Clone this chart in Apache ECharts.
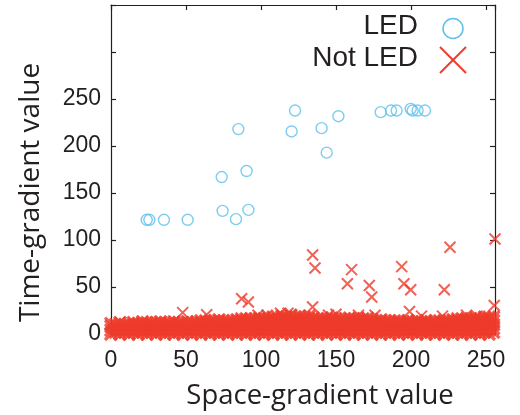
<!DOCTYPE html>
<html>
<head>
<meta charset="utf-8">
<script src="https://cdn.jsdelivr.net/npm/echarts@6/dist/echarts.min.js"></script>
<style>html,body{margin:0;padding:0;background:#fff;}#c{width:520px;height:415px;}</style>
</head>
<body>
<div id="c"></div>
<script>
// ---- data ----
var xTicks = [0, 50, 100, 150, 200, 250];
var yTicks = [0, 50, 100, 150, 200, 250];
var ledPoints = [
  [23.8,121.5],[25.6,121.5],[35.3,121.5],[51.1,121.5],
  [73.8,167],[90.4,173.4],[74.4,131],[91.6,132],[83.3,122.2],
  [84.9,218],[120.4,215.5],[122.7,237.7],[140.4,219],[143.8,192.9],[151.6,231.7],
  [179.8,236],[186.7,237.7],[190.4,237.7],[199.8,239.5],[201.1,237.7],[204.4,237.7],[209.3,237.7]
];
var notLedOutliers = [
  [256,101],[226,92.2],[134.4,84],[136,70.3],[193.8,71.7],[160.4,68.5],[157.6,53.4],
  [172.2,51.6],[173.8,39.3],[195.3,53.4],[199.8,47],[222.2,47],[87.1,37.5],[91.6,34],
  [134.4,28.7],[255.5,30.4],[199,24],[47.8,22.7],[63.8,20.5],[98,20],[104,20],[113,22],
  [118,22],[145,20],[150,21],[165,20],[176,20],[207,19],[221,19],[237,20],[244,19]
];
// dense band of Not-LED points: [x, y1, y2, ...]
var notLedBand = [
  [0,0,4,8,11],[3,2,6,10],[6,0,4,8,12],[9,2,6,10],[12,0,4,8,11],[15,2,6,10,12],
  [18,0,4,8,11],[21,2,6,10,13],[24,0,4,8,12],[27,2,6,10,12],[30,0,4,8,12],[33,2,6,10,13],
  [36,0,4,8,12],[39,2,6,10,12],[42,0,4,8,13],[45,2,6,10,12],[48,0,4,8,12],[51,2,6,10,13],
  [54,0,4,8,12],[57,2,6,10,13],[60,0,4,8,12,14],[63,2,6,10,14],[66,0,4,8,12,14],[69,2,6,10,14],
  [72,0,4,8,12,15],[75,2,6,10,14],[78,0,4,8,12,14],[81,2,6,10,14],[84,0,4,8,12,15],[87,2,6,10,14,16],
  [90,0,4,8,12,16],[93,2,6,10,14,16],[96,0,4,8,12,16],[99,2,6,10,14,17],[102,0,4,8,12,16],[105,2,6,10,14,16],
  [108,0,4,8,12,16,18],[111,2,6,10,14,18],[114,0,4,8,12,16,19],[117,2,6,10,14,18],[120,0,4,8,12,16,20],[123,2,6,10,14,18],
  [126,0,4,8,12,16,19],[129,2,6,10,14,18],[132,0,4,8,12,16,19],[135,2,6,10,14,17],[138,0,4,8,12,16],[141,2,6,10,14,17],
  [144,0,4,8,12,16],[147,2,6,10,14,17],[150,0,4,8,12,16],[153,2,6,10,14,16],[156,0,4,8,12,16],[159,2,6,10,14,17],
  [162,0,4,8,12,16],[165,2,6,10,14,16],[168,0,4,8,12,16],[171,2,6,10,14,17],[174,0,4,8,12,15],[177,2,6,10,14],
  [180,0,4,8,12,15],[183,2,6,10,14],[186,0,4,8,12,14],[189,2,6,10,14],[192,0,4,8,12,14],[195,2,6,10,13],
  [198,0,4,8,12,14],[201,2,6,10,13],[204,0,4,8,12,14],[207,2,6,10,13],[210,0,4,8,12,14],[213,2,6,10,13],
  [216,0,4,8,12,14],[219,2,6,10,14],[222,0,4,8,12,14],[225,2,6,10,14],[228,0,4,8,12,15],[231,2,6,10,14,16],
  [234,0,4,8,12,16],[237,2,6,10,14,16],[240,0,4,8,12,16],[243,2,6,10,14,17],[246,0,4,8,12,16],[249,2,6,10,14,18],
  [252,0,4,8,12,16,18],[255,2,6,10,14,18]
];
var seriesNames = ['LED', 'Not LED'];
var xTitle = 'Space-gradient value';
var yTitle = 'Time-gradient value';

// ---- build ----
var bandPoints = [];
notLedBand.forEach(function (col) {
  for (var i = 1; i < col.length; i++) bandPoints.push([col[0], col[i]]);
});

var BLUE = '#5BC1EC';
var RED = '#EE3B2B';
var INK = '#231f20';
var CROSS = 'path://M0,0L10,10M10,0L0,10';
var tickFont = 'Liberation Sans, Arial, sans-serif';
var titleFont = 'Open Sans, sans-serif';

var chart = echarts.init(document.getElementById('c'), null, {renderer: 'canvas'});
function lbl(list) {
  return function (v) { return list.indexOf(v) >= 0 ? String(v) : ''; };
}
var commonLine = {show: true, onZero: false, lineStyle: {color: INK, width: 1.2}};
var commonTick = {show: true, inside: true, length: 5, lineStyle: {color: INK, width: 1.2}};
chart.setOption({
  animation: false,
  backgroundColor: '#fff',
  grid: {left: 111, right: 25, top: 5, bottom: 79.6, containLabel: false},
  xAxis: [{
    type: 'value', min: 0, max: 256, interval: 50, position: 'bottom',
    axisLine: commonLine, axisTick: commonTick, splitLine: {show: false},
    axisLabel: {formatter: lbl(xTicks), showMaxLabel: false, fontSize: 23, fontFamily: tickFont, color: INK, margin: 15},
    name: xTitle, nameLocation: 'middle', nameGap: 48,
    nameTextStyle: {fontSize: 27.5, fontFamily: titleFont, color: INK, padding: [0, 0, 0, 34]}
  }, {
    type: 'value', min: 0, max: 256, interval: 50, position: 'top',
    axisLine: commonLine, axisTick: commonTick, axisLabel: {show: false}, splitLine: {show: false}
  }],
  yAxis: [{
    type: 'value', min: 0, max: 350, interval: 50, position: 'left',
    axisLine: commonLine, axisTick: commonTick, splitLine: {show: false},
    axisLabel: {formatter: lbl(yTicks), fontSize: 23, fontFamily: tickFont, color: INK, margin: 10},
    name: yTitle, nameLocation: 'middle', nameGap: 66,
    nameTextStyle: {fontSize: 28, fontFamily: titleFont, color: INK, padding: [0, 46, 0, 0]}
  }, {
    type: 'value', min: 0, max: 350, interval: 50, position: 'right',
    axisLine: commonLine, axisTick: commonTick, axisLabel: {show: false}, splitLine: {show: false}
  }],
  series: [{
    name: seriesNames[1], type: 'scatter', data: bandPoints, clip: false,
    symbol: CROSS, symbolSize: 12,
    itemStyle: {color: RED, borderColor: RED, borderWidth: 3.2}, z: 3
  }, {
    name: seriesNames[1], type: 'scatter', data: notLedOutliers, clip: false,
    symbol: CROSS, symbolSize: 11,
    itemStyle: {color: RED, borderColor: RED, borderWidth: 2}, z: 3
  }, {
    name: seriesNames[0], type: 'scatter', data: ledPoints, clip: false,
    symbol: 'circle', symbolSize: 11,
    itemStyle: {color: 'rgba(0,0,0,0)', borderColor: BLUE, borderWidth: 1.4}, z: 4
  }],
  graphic: [
    {type: 'text', right: 102, top: 12,
     style: {text: seriesNames[0], font: '28px Liberation Sans, Arial, sans-serif', fill: INK}},
    {type: 'text', right: 102, top: 44,
     style: {text: seriesNames[1], font: '28px Liberation Sans, Arial, sans-serif', fill: INK}},
    {type: 'circle', shape: {cx: 453, cy: 28.5, r: 10}, style: {fill: 'none', stroke: BLUE, lineWidth: 1.5}},
    {type: 'line', shape: {x1: 440, y1: 47, x2: 466, y2: 73}, style: {stroke: RED, lineWidth: 2}},
    {type: 'line', shape: {x1: 466, y1: 47, x2: 440, y2: 73}, style: {stroke: RED, lineWidth: 2}}
  ]
});
</script>
</body>
</html>
